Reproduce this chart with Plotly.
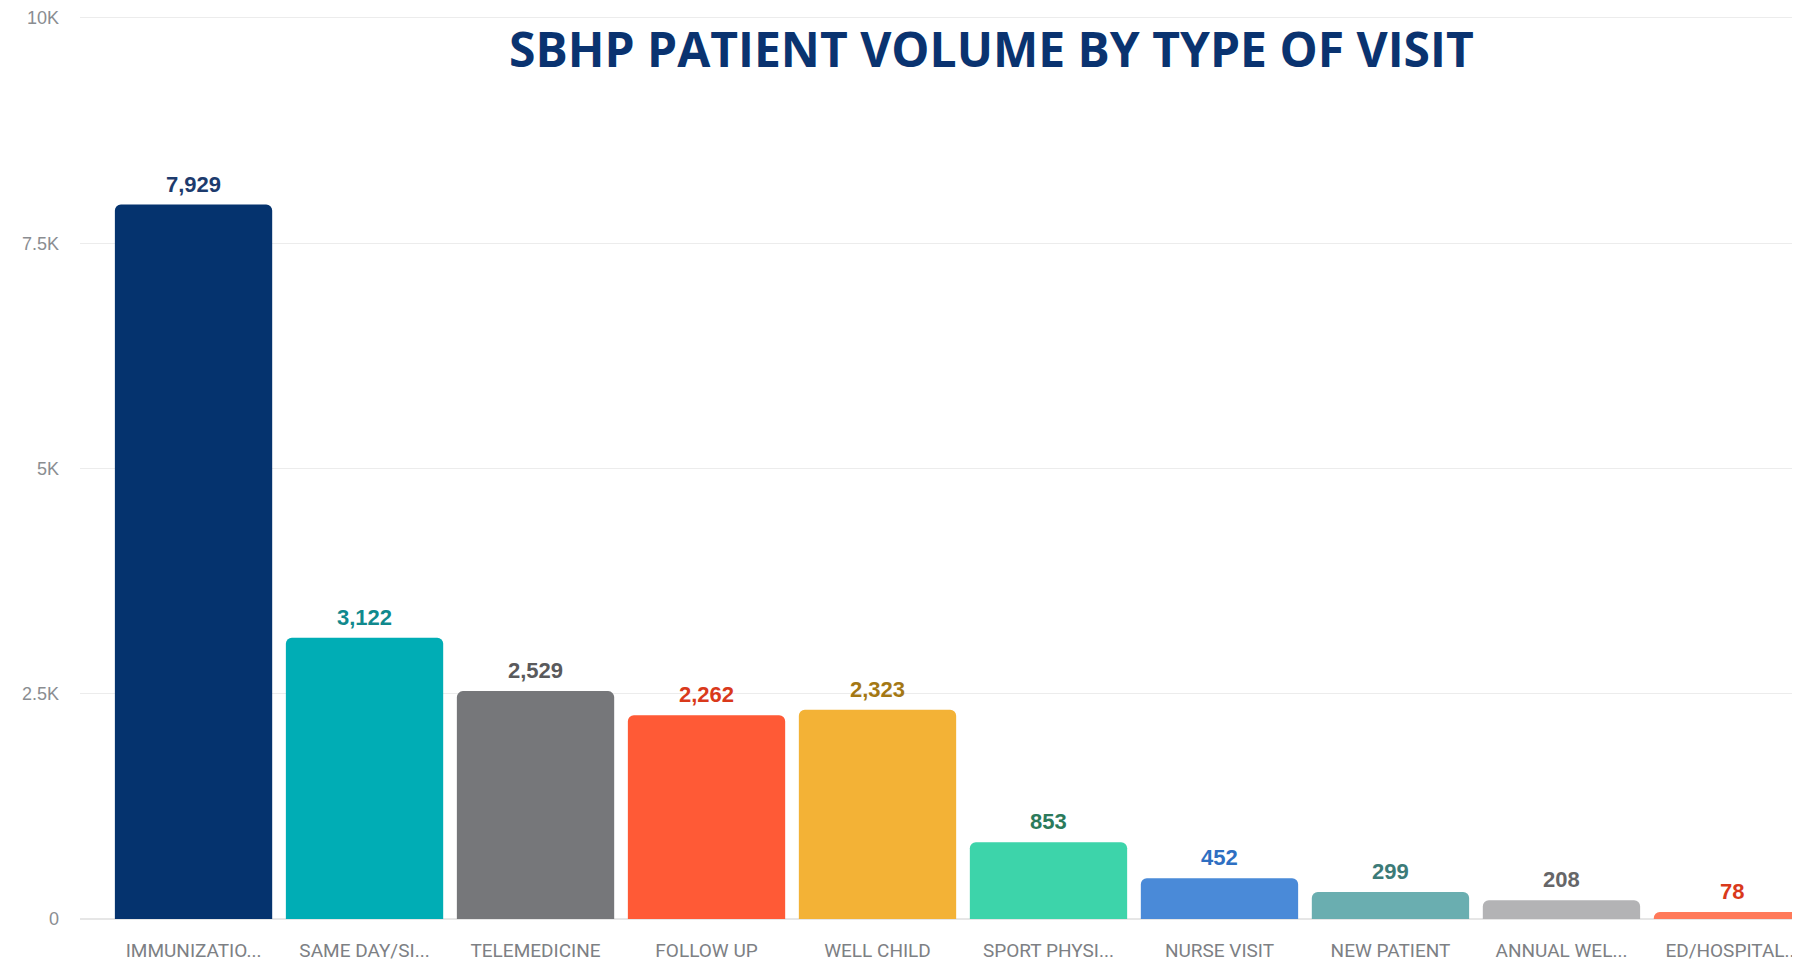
import plotly.graph_objects as go

categories = ["IMMUNIZATIO...", "SAME DAY/SI...", "TELEMEDICINE", "FOLLOW UP", "WELL CHILD",
              "SPORT PHYSI...", "NURSE VISIT", "NEW PATIENT", "ANNUAL WEL...", "ED/HOSPITAL..."]
values = [7929, 3122, 2529, 2262, 2323, 853, 452, 299, 208, 78]
bar_colors = ["#05336e", "#00adb5", "#76777a", "#ff5a36", "#f3b236",
              "#3dd4aa", "#4a8ad8", "#6aaeb0", "#b3b3b5", "#ff7a5a"]
label_colors = ["#1d3b6d", "#10898d", "#5a5a5c", "#d9391b", "#a47814",
                "#2b7a5b", "#2e6fc2", "#3c7b78", "#666668", "#d9391b"]
y_ticks = [0, 2500, 5000, 7500, 10000]
y_tick_text = ["0", "2.5K", "5K", "7.5K", "10K"]

fig = go.Figure()
fig.add_trace(go.Bar(
    x=list(range(len(categories))), y=values,
    marker=dict(color=bar_colors, line=dict(width=0)),
    hoverinfo="skip",
))

for i, (v, c) in enumerate(zip(values, label_colors)):
    fig.add_annotation(x=i, y=v, text=f"<b>{v:,}</b>", showarrow=False,
                       yanchor="bottom", yshift=6,
                       font=dict(family="Liberation Sans, Arial", size=22, color=c))

fig.add_annotation(xref="paper", yref="paper", x=0.5297, y=0.959,
                   text="<b>SBHP PATIENT VOLUME BY TYPE OF VISIT</b>",
                   showarrow=False, xanchor="center", yanchor="middle",
                   font=dict(family="Open Sans", size=48, color="#0a3370"))

fig.update_layout(
    width=1792, height=956,
    margin=dict(l=72, r=0, t=0, b=45),
    paper_bgcolor="white", plot_bgcolor="white",
    bargap=0.08, barcornerradius=6,
    showlegend=False,
    xaxis=dict(range=[-0.664, 9.395], tickmode="array",
               tickvals=list(range(len(categories))), ticktext=categories,
               showgrid=False, zeroline=False, showline=False, ticks="",
               tickfont=dict(family="Roboto", size=19, color="#7d8084"),
               ticklabelstandoff=18),
    yaxis=dict(range=[0, 10077], tickmode="array", tickvals=y_ticks, ticktext=y_tick_text,
               showgrid=True, gridcolor="#ececec", gridwidth=1,
               zeroline=True, zerolinecolor="#e6e6e6", zerolinewidth=2,
               showline=False, ticks="", ticklabeloverflow="allow",
               tickfont=dict(family="Liberation Sans, Arial", size=18, color="#8a8d91"),
               ticklabelstandoff=20),
)

fig.write_html("out.html")
